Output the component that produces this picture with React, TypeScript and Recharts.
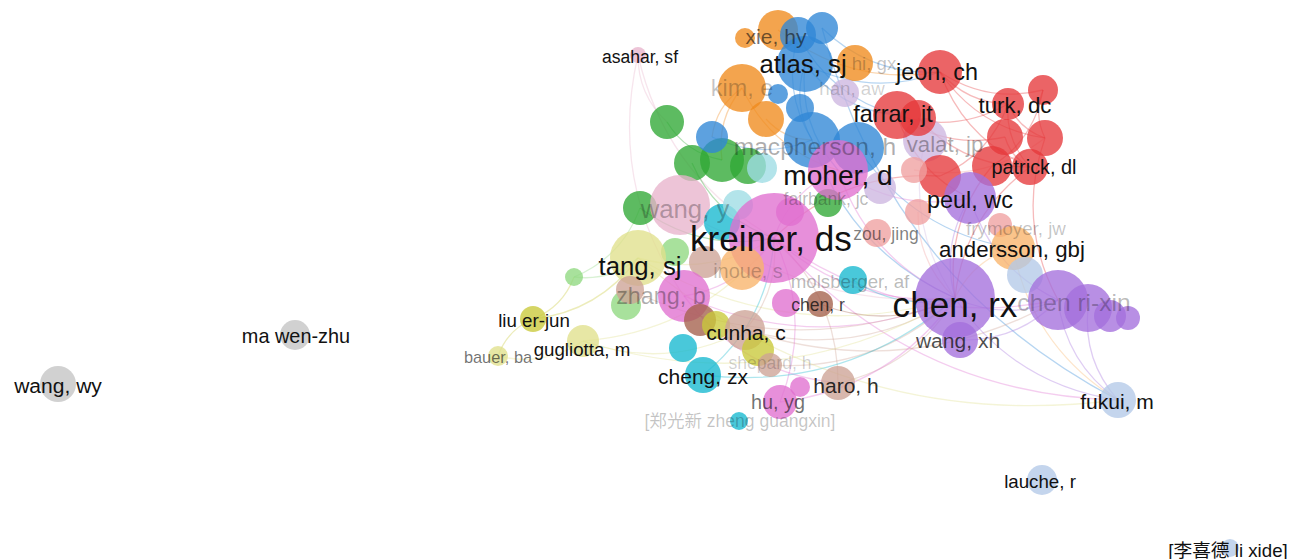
import React from "react";
import { ScatterChart, Scatter, XAxis, YAxis } from "recharts";

const W = 1291;
const H = 559;
const FONT_SCALE = 1.17;

// cluster palette (VOSviewer style)
const palette: Record<string, string> = {
  red: "#e5383b",
  green: "#2fa834",
  blue: "#2f86d6",
  olive: "#c9c93a",
  purple: "#a470dc",
  cyan: "#16b8cf",
  orange: "#f08a1c",
  brown: "#a4604c",
  pink: "#e070d0",
  lblue: "#b4c9e8",
  lred: "#f0a0a0",
  lpurple: "#cdb6e0",
  tan: "#cda396",
  lyellow: "#e0e08c",
  lgreen: "#8fd880",
  lcyan: "#9edce4",
  lorange: "#f8b46a",
  gray: "#c4c4c4",
  lpink: "#e8b4cc",
};

// nodes: name, x, y, weight (radius), cluster
const nodes = [
  { n: "wangwy", x: 58, y: 384, w: 18, c: "gray" },
  { n: "mawenzhu", x: 295, y: 335, w: 15, c: "gray" },
  { n: "liuerjun", x: 533, y: 319, w: 13, c: "olive" },
  { n: "bauer", x: 498, y: 356, w: 10, c: "lyellow" },
  { n: "gugliotta", x: 583, y: 341, w: 16, c: "lyellow" },
  { n: "g1", x: 574, y: 277, w: 9, c: "lgreen" },
  { n: "asahar", x: 638, y: 55, w: 8, c: "lpink" },
  { n: "green1", x: 667, y: 122, w: 17, c: "green" },
  { n: "green2", x: 640, y: 208, w: 17, c: "green" },
  { n: "green3", x: 692, y: 163, w: 18, c: "green" },
  { n: "green4", x: 722, y: 160, w: 22, c: "green" },
  { n: "green5", x: 748, y: 166, w: 18, c: "green" },
  { n: "lgreen1", x: 626, y: 305, w: 15, c: "lgreen" },
  { n: "lgreen2", x: 675, y: 252, w: 14, c: "lgreen" },
  { n: "blue1", x: 712, y: 137, w: 16, c: "blue" },
  { n: "blue2", x: 822, y: 28, w: 16, c: "blue" },
  { n: "orange1", x: 745, y: 38, w: 10, c: "orange" },
  { n: "xiehy", x: 778, y: 30, w: 20, c: "orange" },
  { n: "blue3", x: 798, y: 35, w: 18, c: "blue" },
  { n: "orange2", x: 855, y: 63, w: 18, c: "orange" },
  { n: "kime", x: 742, y: 88, w: 24, c: "orange" },
  { n: "orange3", x: 766, y: 119, w: 18, c: "orange" },
  { n: "atlas", x: 805, y: 64, w: 28, c: "blue" },
  { n: "blue4", x: 778, y: 94, w: 10, c: "blue" },
  { n: "blue5", x: 800, y: 108, w: 14, c: "blue" },
  { n: "lpur1", x: 845, y: 93, w: 14, c: "lpurple" },
  { n: "blue6", x: 812, y: 140, w: 28, c: "blue" },
  { n: "blue7", x: 858, y: 148, w: 26, c: "blue" },
  { n: "lcyan1", x: 762, y: 168, w: 15, c: "lcyan" },
  { n: "lpur2", x: 925, y: 140, w: 22, c: "lpurple" },
  { n: "jeon", x: 940, y: 72, w: 22, c: "red" },
  { n: "farrar", x: 897, y: 115, w: 24, c: "red" },
  { n: "red1", x: 918, y: 118, w: 18, c: "red" },
  { n: "turk", x: 1008, y: 104, w: 16, c: "red" },
  { n: "red2", x: 1043, y: 90, w: 15, c: "red" },
  { n: "red3", x: 1005, y: 137, w: 18, c: "red" },
  { n: "red4", x: 1045, y: 138, w: 18, c: "red" },
  { n: "patrick", x: 1030, y: 167, w: 18, c: "red" },
  { n: "red5", x: 992, y: 166, w: 20, c: "red" },
  { n: "red6", x: 940, y: 176, w: 21, c: "red" },
  { n: "lred1", x: 914, y: 170, w: 13, c: "lred" },
  { n: "lred2", x: 918, y: 212, w: 13, c: "lred" },
  { n: "lred3", x: 1000, y: 225, w: 12, c: "lred" },
  { n: "lpur3", x: 880, y: 188, w: 16, c: "lpurple" },
  { n: "green6", x: 828, y: 203, w: 14, c: "green" },
  { n: "wangy", x: 680, y: 205, w: 30, c: "lpink" },
  { n: "cyan1", x: 722, y: 222, w: 18, c: "cyan" },
  { n: "lcyan2", x: 738, y: 205, w: 15, c: "lcyan" },
  { n: "moher", x: 838, y: 170, w: 30, c: "pink" },
  { n: "pink1", x: 790, y: 212, w: 14, c: "pink" },
  { n: "kreiner", x: 774, y: 238, w: 45, c: "pink" },
  { n: "tang", x: 638, y: 258, w: 28, c: "lyellow" },
  { n: "lorange1", x: 742, y: 268, w: 22, c: "lorange" },
  { n: "tan1", x: 705, y: 262, w: 16, c: "tan" },
  { n: "zouj", x: 877, y: 233, w: 14, c: "lred" },
  { n: "peul", x: 970, y: 198, w: 26, c: "purple" },
  { n: "andersson", x: 1013, y: 248, w: 22, c: "lorange" },
  { n: "lblue1", x: 1025, y: 275, w: 18, c: "lblue" },
  { n: "chenrx", x: 955, y: 298, w: 40, c: "purple" },
  { n: "chenrixin", x: 1058, y: 300, w: 30, c: "purple" },
  { n: "purple2", x: 1088, y: 308, w: 24, c: "purple" },
  { n: "purple3", x: 1110, y: 316, w: 16, c: "purple" },
  { n: "purple4", x: 1128, y: 318, w: 12, c: "purple" },
  { n: "wangxh", x: 960, y: 340, w: 18, c: "purple" },
  { n: "zhangb", x: 684, y: 296, w: 26, c: "pink" },
  { n: "brown1", x: 700, y: 320, w: 16, c: "brown" },
  { n: "tan2", x: 630, y: 290, w: 14, c: "tan" },
  { n: "molsberger", x: 853, y: 280, w: 14, c: "cyan" },
  { n: "pink2", x: 786, y: 303, w: 14, c: "pink" },
  { n: "chenr", x: 820, y: 304, w: 13, c: "brown" },
  { n: "olive1", x: 716, y: 325, w: 14, c: "olive" },
  { n: "cunha", x: 745, y: 330, w: 20, c: "tan" },
  { n: "olive2", x: 758, y: 350, w: 16, c: "olive" },
  { n: "cyan2", x: 683, y: 348, w: 14, c: "cyan" },
  { n: "chengzx", x: 703, y: 375, w: 18, c: "cyan" },
  { n: "shepard", x: 770, y: 365, w: 12, c: "tan" },
  { n: "huyg", x: 780, y: 402, w: 17, c: "pink" },
  { n: "pink3", x: 800, y: 387, w: 10, c: "pink" },
  { n: "haro", x: 838, y: 383, w: 17, c: "tan" },
  { n: "zheng", x: 739, y: 421, w: 9, c: "cyan" },
  { n: "fukui", x: 1118, y: 400, w: 18, c: "lblue" },
  { n: "lauche", x: 1042, y: 480, w: 15, c: "lblue" },
  { n: "lixide", x: 1230, y: 548, w: 9, c: "lblue" },
];

// labels: text, x, y, weight, prominence (0..1)
const labels = [
  { t: "wang, wy", x: 58, y: 385, s: 18, o: 1 },
  { t: "ma wen-zhu", x: 296, y: 336, s: 17, o: 1 },
  { t: "liu er-jun", x: 534, y: 320, s: 16, o: 1 },
  { t: "bauer, ba", x: 498, y: 357, s: 14, o: 0.6 },
  { t: "gugliotta, m", x: 582, y: 349, s: 16, o: 1 },
  { t: "asahar, sf", x: 640, y: 57, s: 15, o: 1 },
  { t: "xie, hy", x: 776, y: 36, s: 18, o: 0.6 },
  { t: "hi, gx", x: 874, y: 63, s: 16, o: 0.25 },
  { t: "atlas, sj", x: 803, y: 64, s: 22, o: 1 },
  { t: "kim, e", x: 742, y: 88, s: 20, o: 0.25 },
  { t: "han, aw", x: 852, y: 88, s: 16, o: 0.2 },
  { t: "jeon, ch", x: 937, y: 72, s: 20, o: 1 },
  { t: "turk, dc", x: 1015, y: 105, s: 19, o: 1 },
  { t: "farrar, jt", x: 893, y: 114, s: 20, o: 1 },
  { t: "macpherson, h", x: 815, y: 146, s: 21, o: 0.35 },
  { t: "valat, jp", x: 945, y: 144, s: 19, o: 0.35 },
  { t: "patrick, dl", x: 1034, y: 167, s: 17, o: 1 },
  { t: "moher, d", x: 838, y: 175, s: 24, o: 1 },
  { t: "fairbank, jc", x: 826, y: 199, s: 15, o: 0.3 },
  { t: "peul, wc", x: 970, y: 200, s: 20, o: 1 },
  { t: "wang, y", x: 685, y: 209, s: 22, o: 0.3 },
  { t: "frymoyer, jw", x: 1016, y: 228, s: 16, o: 0.25 },
  { t: "kreiner, ds", x: 771, y: 238, s: 30, o: 1 },
  { t: "zou, jing", x: 886, y: 234, s: 15, o: 0.55 },
  { t: "andersson, gbj", x: 1012, y: 249, s: 19, o: 1 },
  { t: "tang, sj", x: 640, y: 266, s: 22, o: 1 },
  { t: "inoue, s", x: 748, y: 271, s: 17, o: 0.25 },
  { t: "molsberger, af", x: 850, y: 281, s: 16, o: 0.3 },
  { t: "zhang, b", x: 661, y: 296, s: 20, o: 0.35 },
  { t: "chen, rx", x: 955, y: 304, s: 30, o: 1 },
  { t: "chen ri-xin", x: 1074, y: 302, s: 21, o: 0.3 },
  { t: "chen, r", x: 818, y: 305, s: 15, o: 0.8 },
  { t: "cunha, c", x: 746, y: 332, s: 18, o: 1 },
  { t: "wang, xh", x: 958, y: 340, s: 18, o: 0.75 },
  { t: "shepard, h", x: 770, y: 363, s: 15, o: 0.2 },
  { t: "cheng, zx", x: 703, y: 376, s: 18, o: 1 },
  { t: "haro, h", x: 846, y: 385, s: 18, o: 0.9 },
  { t: "hu, yg", x: 778, y: 402, s: 17, o: 0.6 },
  { t: "[郑光新 zheng guangxin]", x: 740, y: 421, s: 15, o: 0.25 },
  { t: "fukui, m", x: 1117, y: 401, s: 18, o: 1 },
  { t: "lauche, r", x: 1040, y: 481, s: 16, o: 1 },
  { t: "[李喜德 li xide]", x: 1228, y: 550, s: 16, o: 1 },
];

// co-authorship links: from, to
const links: [string, string][] = [
  ["asahar", "kreiner"], ["asahar", "zhangb"], ["liuerjun", "g1"], ["liuerjun", "bauer"],
  ["liuerjun", "tang"], ["bauer", "gugliotta"], ["g1", "tang"], ["g1", "green2"],
  ["gugliotta", "cunha"], ["gugliotta", "kreiner"], ["atlas", "jeon"], ["atlas", "blue6"],
  ["atlas", "moher"], ["atlas", "farrar"], ["blue2", "jeon"], ["blue3", "blue6"],
  ["kime", "blue1"], ["kime", "green4"], ["jeon", "turk"], ["jeon", "red2"],
  ["farrar", "turk"], ["farrar", "red3"], ["turk", "red4"], ["turk", "patrick"],
  ["red2", "red4"], ["red3", "patrick"], ["red5", "red2"], ["red6", "turk"],
  ["farrar", "peul"], ["jeon", "red4"], ["red5", "chenrx"], ["red6", "kreiner"],
  ["blue6", "chenrx"], ["blue7", "andersson"], ["blue2", "fukui"], ["moher", "chenrx"],
  ["moher", "kreiner"], ["kreiner", "chenrx"], ["kreiner", "chenrixin"], ["kreiner", "fukui"],
  ["zhangb", "chenrx"], ["zhangb", "haro"], ["cunha", "chenrx"], ["cunha", "chenrixin"],
  ["chenr", "chenrx"], ["haro", "chenrx"], ["huyg", "chenrx"], ["chenrx", "fukui"],
  ["chenrixin", "fukui"], ["purple2", "fukui"], ["chenrx", "chenrixin"], ["wangxh", "chenrixin"],
  ["tang", "kreiner"], ["tang", "chenrx"], ["green2", "kreiner"], ["green1", "green4"],
  ["wangy", "chenrx"], ["molsberger", "chenrx"], ["lred2", "chenrx"], ["peul", "chenrx"],
  ["andersson", "chenrx"], ["haro", "kreiner"], ["huyg", "kreiner"], ["chengzx", "kreiner"],
  ["lpur2", "chenrx"], ["patrick", "chenrx"], ["red4", "chenrixin"], ["asahar", "green1"],
  ["xiehy", "jeon"], ["blue3", "farrar"], ["kime", "moher"], ["orange3", "blue6"],
  ["blue1", "blue6"], ["green3", "kreiner"], ["wangy", "kreiner"], ["zhangb", "kreiner"],
  ["cunha", "kreiner"], ["shepard", "chenrx"], ["chengzx", "chenrx"], ["tan2", "chenrx"],
  ["tang", "fukui"], ["red1", "patrick"], ["lred1", "red4"], ["jeon", "patrick"],
  ["moher", "peul"], ["andersson", "fukui"], ["peul", "chenrixin"], ["gugliotta", "chenrx"],
];

const byName: Record<string, any> = {};
nodes.forEach((d) => (byName[d.n] = d));

const nodeData = nodes.map((d) => ({ x: d.x, y: d.y, r: d.w, fill: palette[d.c] }));
const labelData = labels.map((d) => ({ x: d.x, y: d.y, text: d.t, size: d.s, op: d.o }));

const Bubble = (props: any) => {
  const { cx, cy, payload } = props;
  if (cx == null || cy == null) return <g />;
  return <circle cx={cx} cy={cy} r={payload.r} fill={payload.fill} fillOpacity={0.78} />;
};

const Label = (props: any) => {
  const { cx, cy, payload } = props;
  if (cx == null || cy == null) return <g />;
  return (
    <text
      x={cx}
      y={cy}
      textAnchor="middle"
      dominantBaseline="central"
      fontSize={payload.size * FONT_SCALE}
      fontFamily="'Liberation Sans', Arial, 'Noto Sans CJK SC', sans-serif"
      fill="#111"
      fillOpacity={payload.op}
    >
      {payload.text}
    </text>
  );
};

const Empty = () => <g />;

// curved link renderer (VOSviewer-style arcs)
const makeArc = (color: string) => (p: any) => {
  const pts = p.points || [];
  if (pts.length < 2) return <g />;
  const a = pts[0];
  const b = pts[1];
  const mx = (a.x + b.x) / 2;
  const my = (a.y + b.y) / 2;
  const dx = b.x - a.x;
  const dy = b.y - a.y;
  const k = 0.22;
  const qx = mx - dy * k;
  const qy = my + dx * k;
  return (
    <path
      d={`M${a.x},${a.y} Q${qx},${qy} ${b.x},${b.y}`}
      fill="none"
      stroke={color}
      strokeWidth={1.3}
      strokeOpacity={0.35}
    />
  );
};

export default function App() {
  return (
    <div style={{ position: "absolute", left: 0, top: 0, width: W, height: H, background: "#fff" }}>
      <ScatterChart width={W} height={H} margin={{ top: 0, right: 0, bottom: 0, left: 0 }}>
        <XAxis type="number" dataKey="x" domain={[0, W]} hide allowDataOverflow />
        <YAxis type="number" dataKey="y" domain={[0, H]} reversed hide allowDataOverflow />
        {links.map(([a, b], i) => {
          const A = byName[a];
          const B = byName[b];
          return (
            <Scatter
              key={"l" + i}
              data={[{ x: A.x, y: A.y }, { x: B.x, y: B.y }]}
              line={makeArc(palette[A.c])}
              shape={Empty}
              isAnimationActive={false}
            />
          );
        })}
        <Scatter data={nodeData} shape={Bubble} isAnimationActive={false} />
        <Scatter data={labelData} shape={Label} isAnimationActive={false} />
      </ScatterChart>
    </div>
  );
}
